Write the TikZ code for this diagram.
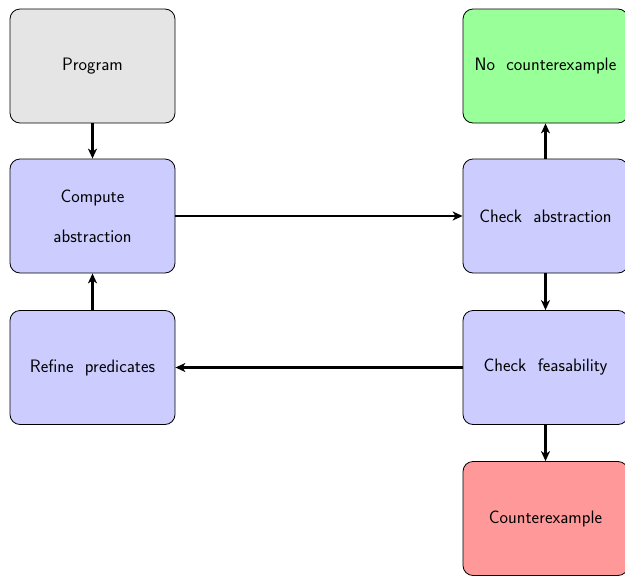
\documentclass[tikz,border=0pt]{standalone}
\usepackage{fontspec}
\usetikzlibrary{arrows.meta}
\definecolor{boxgray}{HTML}{E5E5E5}
\definecolor{boxblue}{HTML}{CCCCFF}
\definecolor{boxgreen}{HTML}{99FF99}
\definecolor{boxred}{HTML}{FF9999}
\tikzset{
  stagebox/.style={draw=black, line width=0.8pt, rounded corners=10pt,
    minimum width=165pt, minimum height=114pt, inner sep=0pt,
    align=center, font=\fontsize{18}{22}\selectfont\sffamily},
  flow/.style={line width=2.4pt, -{Stealth[length=10pt,width=9pt,inset=3pt]}}
}
\begin{document}
\begin{tikzpicture}[x=1pt,y=1pt]
\useasboundingbox (0,0) rectangle (625,-576);
\begin{scope}
\clip (0,0) rectangle (625,-576);
\node[stagebox, fill=boxgray]  (prog)  at (92.5,-66)    {Program};
\node[stagebox, fill=boxblue]  (comp)  at (92.5,-216)   {Compute\\[18pt]abstraction};
\node[stagebox, fill=boxblue]  (refine) at (92.5,-367.5) {Refine~~predicates};
\node[stagebox, fill=boxgreen] (nocex) at (545.5,-66)   {No~~counterexample};
\node[stagebox, fill=boxblue]  (check) at (545.5,-216)  {Check~~abstraction};
\node[stagebox, fill=boxblue]  (feas)  at (545.5,-367.5) {Check~~feasability};
\node[stagebox, fill=boxred]   (cex)   at (545.5,-518.5) {Counterexample};
\draw[flow] (prog) -- (comp);
\draw[flow] (refine) -- (comp);
\draw[flow] (comp) -- (check);
\draw[flow] (check) -- (nocex);
\draw[flow] (check) -- (feas);
\draw[flow] (feas) -- (refine);
\draw[flow] (feas) -- (cex);
\end{scope}
\end{tikzpicture}
\end{document}
